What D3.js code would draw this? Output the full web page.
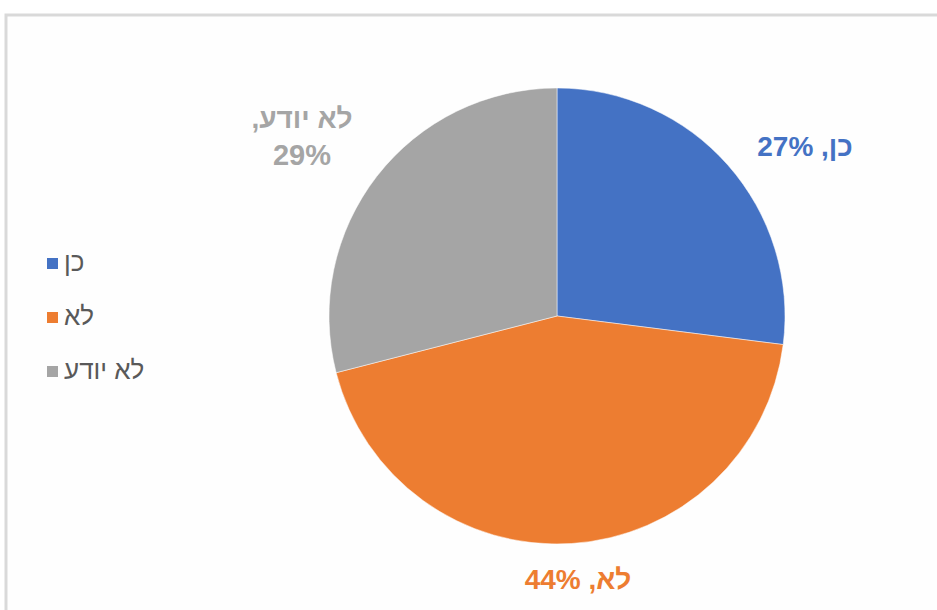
<!DOCTYPE html>
<html>
<head>
<meta charset="utf-8">
<script src="https://cdn.jsdelivr.net/npm/d3@7"></script>
<style>
  body { margin: 0; background: #fff; }
  svg { display: block; font-family: Arial, "Liberation Sans", sans-serif; }
</style>
</head>
<body>
<svg id="chart" width="937" height="610"></svg>
<script>
// data
var categories = ["כן", "לא", "לא יודע"];
var values = [27, 44, 29];
var colors = ["#4472C4", "#ED7D31", "#A5A5A5"];

var svg = d3.select("#chart");
var width = 937, height = 610;

// frame
svg.append("rect")
    .attr("x", 6).attr("y", 15)
    .attr("width", width + 10).attr("height", height + 10)
    .attr("fill", "#fefefe")
    .attr("stroke", "#d9d9d9")
    .attr("stroke-width", 3);

var cx = 557, cy = 316, radius = 228;

var pie = d3.pie().sort(null).value(function (d) { return d; });
var arc = d3.arc().innerRadius(0).outerRadius(radius);
var arcs = pie(values);

var g = svg.append("g").attr("transform", "translate(" + cx + "," + cy + ")");

g.selectAll("path")
    .data(arcs)
    .enter().append("path")
    .attr("d", arc)
    .attr("fill", function (d, i) { return colors[i]; })
    .attr("stroke", "#fff")
    .attr("stroke-width", 0.5);

// data labels, placed outside the slices
var labelPos = [
    [248, -160],
    [21, 273],
    [-255, -188]
];

arcs.forEach(function (d, i) {
    var pct = values[i] + "%";
    var t = g.append("text")
        .attr("direction", "rtl")
        .attr("text-anchor", "middle")
        .attr("fill", colors[i])
        .attr("font-size", 28)
        .attr("font-weight", "bold")
        .attr("transform", "translate(" + labelPos[i][0] + "," + labelPos[i][1] + ")");
    if (i === 2) {
        t.append("tspan").attr("x", 0).attr("dy", 0).text(categories[i] + ",");
        t.append("tspan").attr("x", 0).attr("dy", 37).attr("font-size", 29).text(pct);
    } else {
        t.text(categories[i] + ", " + pct);
    }
});

// legend
var legend = svg.append("g").attr("transform", "translate(47,258)");
var items = legend.selectAll("g")
    .data(categories)
    .enter().append("g")
    .attr("transform", function (d, i) { return "translate(0," + (i * 54) + ")"; });

items.append("rect")
    .attr("width", 11).attr("height", 11)
    .attr("fill", function (d, i) { return colors[i]; });

items.append("text")
    .attr("x", 17)
    .attr("y", 13)
    .attr("font-size", 26)
    .attr("fill", "#595959")
    .text(function (d) { return d; });
</script>
</body>
</html>
